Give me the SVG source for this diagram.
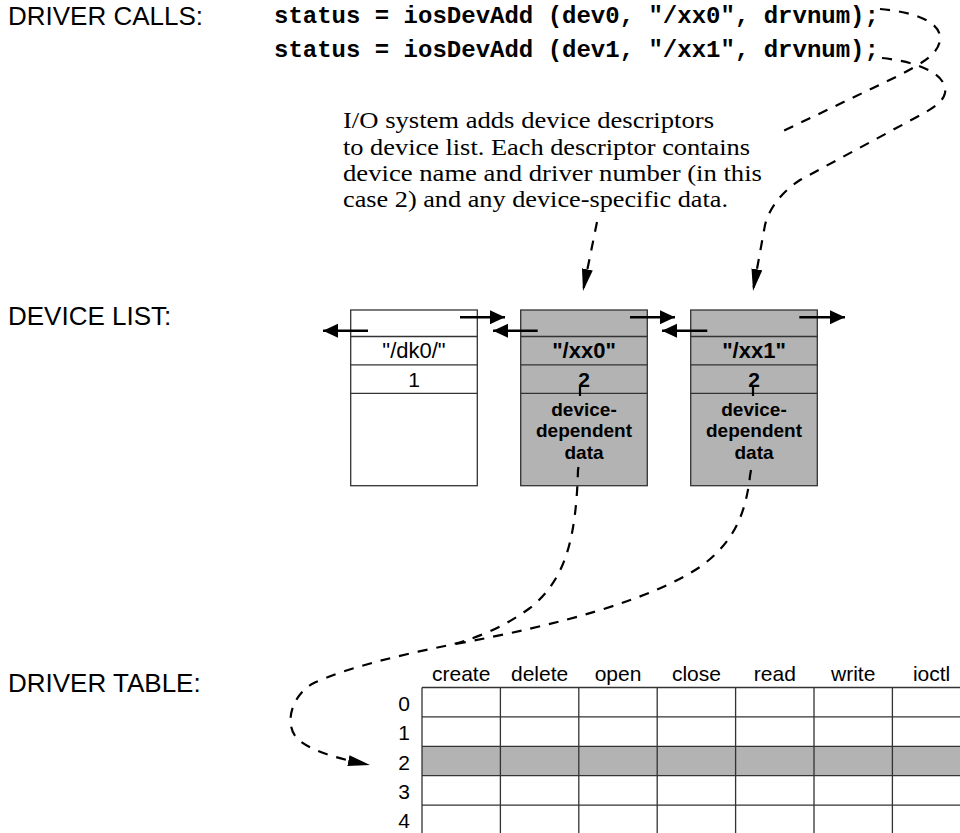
<svg xmlns="http://www.w3.org/2000/svg" width="960" height="833" viewBox="0 0 960 833">
<style>
.lbl{font-family:"Liberation Sans",Arial,sans-serif;font-size:26px;fill:#000}
.code{font-family:"Liberation Mono","Courier New",monospace;font-weight:bold;font-size:24px;fill:#000}
.para{font-family:"Liberation Serif","Times New Roman",serif;font-size:23.5px;fill:#000}
.box{stroke:#333;stroke-width:1.3}
.w{fill:#fff}
.g{fill:#b3b3b3}
.ln{stroke:#333;stroke-width:1.3;fill:none}
.bt{font-family:"Liberation Sans",Arial,sans-serif;text-anchor:middle;fill:#000}
.nm{font-size:22px}
.num{font-size:21px}
.dd{font-size:19px;font-weight:bold}
.b{font-weight:bold}
.link{stroke:#000;stroke-width:2.5;fill:none;marker-end:url(#ah)}
.dash{stroke:#000;stroke-width:2.2;fill:none;stroke-dasharray:10 9}
.th{font-family:"Liberation Sans",Arial,sans-serif;font-size:21px;text-anchor:middle;fill:#000}
</style>
<defs>
<marker id="ah" markerUnits="userSpaceOnUse" markerWidth="16" markerHeight="15" refX="15" refY="7" orient="auto"><path d="M0,0 L15,7 L0,14 z" fill="#000"/></marker>
<marker id="dh" markerUnits="userSpaceOnUse" markerWidth="23" markerHeight="12" refX="22" refY="5.5" orient="auto"><path d="M0,0 L22,5.5 L0,11 z" fill="#000"/></marker>
</defs>
<rect width="960" height="833" fill="#fff"/>

<g id="labels">
<text class="lbl" x="8" y="25">DRIVER CALLS:</text>
<text class="lbl" x="8" y="325">DEVICE LIST:</text>
<text class="lbl" x="8" y="692">DRIVER TABLE:</text>
</g>

<g id="driver-calls">
<text class="code" x="274" y="23" xml:space="preserve">status = iosDevAdd (dev0, "/xx0", drvnum);</text>
<text class="code" x="274" y="57" xml:space="preserve">status = iosDevAdd (dev1, "/xx1", drvnum);</text>
</g>

<g id="note">
<text class="para" x="343" y="128.3" textLength="371" lengthAdjust="spacingAndGlyphs">I/O system adds device descriptors</text>
<text class="para" x="343" y="154.6" textLength="407" lengthAdjust="spacingAndGlyphs">to device list. Each descriptor contains</text>
<text class="para" x="343" y="181" textLength="419" lengthAdjust="spacingAndGlyphs">device name and driver number (in this</text>
<text class="para" x="343" y="207.3" textLength="385" lengthAdjust="spacingAndGlyphs">case 2) and any device-specific data.</text>
</g>

<g id="dev-dk0">
<rect class="box w" x="350.7" y="310" width="126.6" height="175.7"/>
<path class="ln" d="M350.7,336.5H477.3M350.7,364.8H477.3M350.7,393.3H477.3"/>
<text class="bt nm" x="414" y="358.3">"/dk0/"</text>
<text class="bt num" x="414" y="387">1</text>
</g>

<g id="dev-xx0">
<rect class="box g" x="520.7" y="310" width="126.6" height="175.7"/>
<path class="ln" d="M520.7,336.5H647.3M520.7,364.8H647.3M520.7,393.3H647.3"/>
<text class="bt nm b" x="584" y="358.3">"/xx0"</text>
<text class="bt num b" x="584" y="387">2</text>
<text class="bt dd" x="584" y="416">device-<tspan x="584" dy="21.4">dependent</tspan><tspan x="584" dy="21.4">data</tspan></text>
</g>

<g id="dev-xx1">
<rect class="box g" x="690.7" y="310" width="126.6" height="175.7"/>
<path class="ln" d="M690.7,336.5H817.3M690.7,364.8H817.3M690.7,393.3H817.3"/>
<text class="bt nm b" x="754" y="358.3">"/xx1"</text>
<text class="bt num b" x="754" y="387">2</text>
<text class="bt dd" x="754" y="416">device-<tspan x="754" dy="21.4">dependent</tspan><tspan x="754" dy="21.4">data</tspan></text>
</g>

<g id="driver-table">
<rect x="422" y="746.3" width="549" height="29.4" fill="#b3b3b3"/>
<path class="ln" d="M422,687.5H971M422,716.9H971M422,746.3H971M422,775.7H971M422,805.1H971M422,834.5H971M422,687.5V834.5M500.4,687.5V834.5M578.8,687.5V834.5M657.2,687.5V834.5M735.6,687.5V834.5M814,687.5V834.5M892.4,687.5V834.5M970.8,687.5V834.5"/>
<text class="th" x="461.2" y="681">create</text>
<text class="th" x="539.6" y="681">delete</text>
<text class="th" x="618" y="681">open</text>
<text class="th" x="696.4" y="681">close</text>
<text class="th" x="774.8" y="681">read</text>
<text class="th" x="853.2" y="681">write</text>
<text class="th" x="931.6" y="681">ioctl</text>
<text class="th" x="404" y="711">0</text>
<text class="th" x="404" y="740">1</text>
<text class="th" x="404" y="769.5">2</text>
<text class="th" x="404" y="798.5">3</text>
<text class="th" x="404" y="828">4</text>
</g>

<g id="connectors">
<path class="link" d="M368,330.7H323"/>
<path class="link" d="M460,317.3H505"/>
<path class="link" d="M537.7,330.7H493"/>
<path class="link" d="M630,317.3H675"/>
<path class="link" d="M707.3,330.7H662"/>
<path class="link" d="M799.3,317.3H845"/>
<path class="dash" marker-end="url(#dh)" d="M880,9 C915,12 942,22 940,40 C938,55 920,64 900,75 L777,134 M597,222 L583,291"/>
<path class="dash" marker-end="url(#dh)" d="M882,58 C920,62 948,75 945,93 C943,103 930,110 915,118 L800,180 C785,190 770,205 765,225 L753,291"/>
<path class="dash" d="M753,387 L753,396 M751,470 L750,476 C745,520 730,545 700,567 C650,600 560,625 450,645"/>
<path class="dash" marker-end="url(#dh)" d="M580,387 L580,396 M578.5,467 L578,470 C576,540 565,580 530,608 C500,630 470,640 450,645 C400,655 345,668 312,684 C290,697 283,728 300,741 C315,752 335,758 370,765"/>
</g>
</svg>
